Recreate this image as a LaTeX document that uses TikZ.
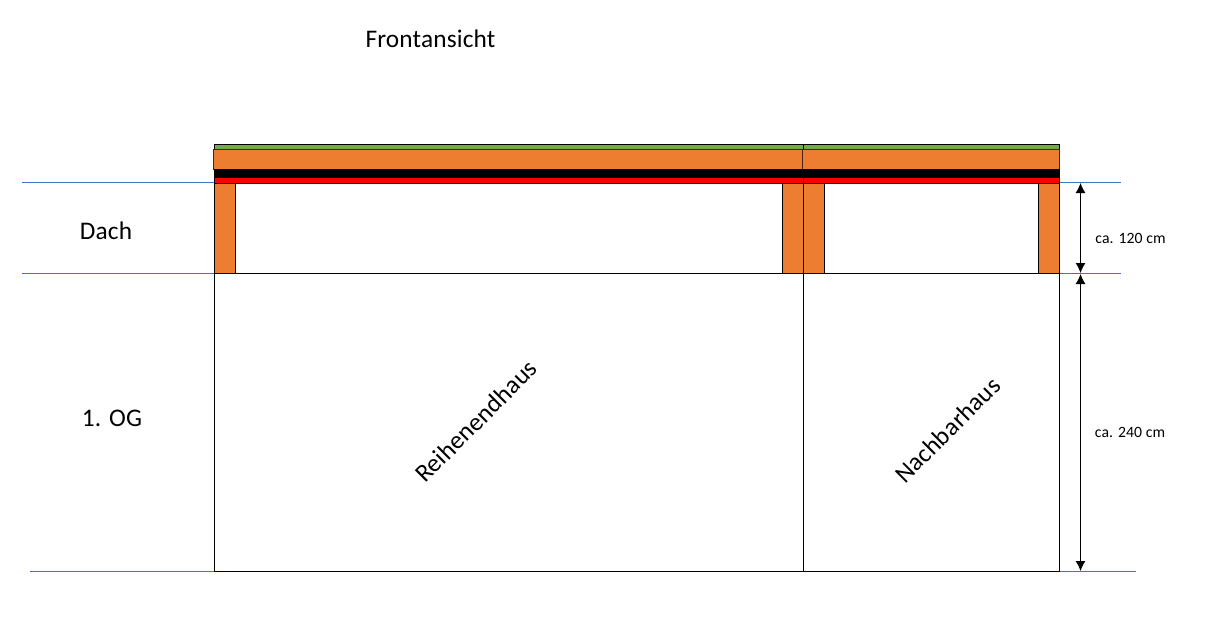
\documentclass[tikz,border=0pt]{standalone}
\usepackage{fontspec}
\setmainfont[LetterSpace=0.6]{Carlito}
\usetikzlibrary{arrows.meta}
\definecolor{roofgreen}{HTML}{70AD47}
\definecolor{rooforange}{HTML}{ED7D31}
\definecolor{levelblue}{HTML}{4472C4}
\tikzset{
  px/.style={x=0.75pt,y=-0.75pt},
  part/.style={draw=black,line width=0.75pt},
  levelline/.style={draw=levelblue,line width=0.75pt},
  wall/.style={draw=black,line width=0.75pt},
  dim/.style={draw=black,line width=0.75pt,{Latex[length=7.5pt,width=7.5pt]}-{Latex[length=7.5pt,width=7.5pt]}},
  big/.style={font=\fontsize{19}{22}\selectfont,text=black,inner sep=0pt},
  small/.style={font=\fontsize{11.8}{14}\selectfont,text=black,inner sep=0pt}
}
\begin{document}
\begin{tikzpicture}[px]
\useasboundingbox (0,0) rectangle (1205,642);
% level lines
\coordinate (a1) at (22,182.5); \coordinate (a2) at (1120.5,182.5);
\coordinate (b1) at (22,273.5); \coordinate (b2) at (1120.5,273.5);
\coordinate (c1) at (30,571.5); \coordinate (c2) at (1135.5,571.5);
\draw[levelline] (a1) -- (a2);
\draw[levelline] (b1) -- (b2);
\draw[levelline] (c1) -- (c2);
% houses
\draw[wall] (214.5,273.5) rectangle (803.5,571.5);
\draw[wall] (803.5,273.5) rectangle (1059.5,571.5);
% posts
\foreach \l/\r in {214.5/235.5,782.5/803.5,803.5/824.5,1038.5/1059.5}
  \draw[part,fill=rooforange] (\l,183.5) rectangle (\r,273.5);
% roof layers
\draw[part,fill=roofgreen] (214.5,144.5) rectangle (803.5,149.5);
\draw[part,fill=roofgreen] (803.5,144.5) rectangle (1059.5,149.5);
\fill[rooforange] (213.5,149.5) rectangle (1059.5,169);
\draw[black!70!rooforange,line width=0.75pt] (213.5,149.5) rectangle (802.5,169);
\draw[black!70!rooforange,line width=0.75pt] (802.5,149.5) rectangle (1059.5,169);
\fill[black] (214,169) rectangle (1060,177);
\draw[part,fill=red] (214.5,177) rectangle (803.5,183.5);
\draw[part,fill=red] (803.5,177) rectangle (1059.5,183.5);
% dimensions
\coordinate (d1) at (1080.5,183); \coordinate (d2) at (1080.5,273);
\coordinate (d3) at (1080.5,274); \coordinate (d4) at (1080.5,571);
\draw[dim] (d1) -- (d2);
\draw[dim] (d3) -- (d4);
% labels
\node[big] (title) at (430.5,39) {Frontansicht};
\node[big] (dach) at (106,231) {Dach};
\node[big] (og) at (112,418) {1. OG};
\node[big,rotate=45] (reihe) at (476,421) {Reihenendhaus};
\node[big,rotate=45] (nachbar) at (947.5,430) {Nachbarhaus};
\node[small] (m1) at (1130.5,238) {ca. 120 cm};
\node[small] (m2) at (1130,432) {ca. 240 cm};
\end{tikzpicture}
\end{document}
